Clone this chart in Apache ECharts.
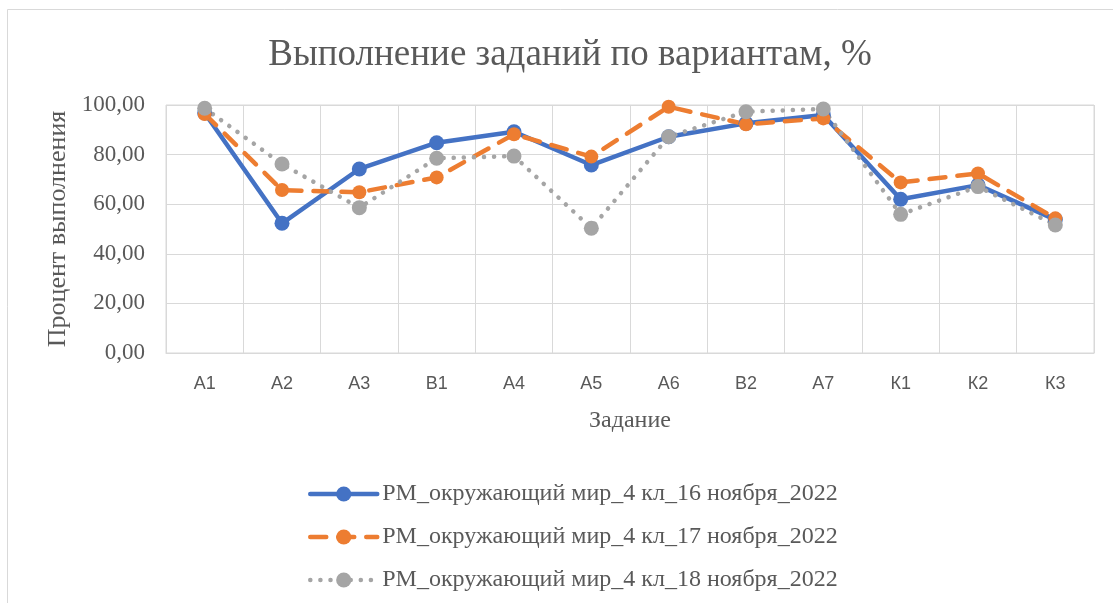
<!DOCTYPE html>
<html lang="ru">
<head>
    <meta charset="UTF-8">
    <title>Выполнение заданий</title>
    <script src="https://cdn.jsdelivr.net/npm/echarts@6/dist/echarts.min.js"></script>
    <style>
        html, body { margin: 0; padding: 0; background: #fff; }
    </style>
</head>
<body>
<div id="chart" style="width: 1113px;height: 603px"></div>

<script>
    // данные
    var tasks = ['А1', 'А2', 'А3', 'В1', 'А4', 'А5', 'А6', 'В2', 'А7', 'К1', 'К2', 'К3'];
    var nov16 = [96.8, 52.3, 74.2, 84.8, 89.2, 75.8, 87.2, 92.6, 96.0, 62.0, 67.7, 53.8];
    var nov17 = [96.4, 65.7, 64.8, 70.8, 88.2, 79.2, 99.3, 92.2, 94.6, 68.8, 72.4, 54.3];
    var nov18 = [98.7, 76.2, 58.6, 78.5, 79.4, 50.3, 87.2, 97.3, 98.4, 55.9, 67.1, 51.6];
    var yTicks = [0, 20, 40, 60, 80, 100];

    var textColor = '#595959';
    var gridColor = '#D9D9D9';
    var serif = '"Liberation Serif", "Times New Roman", serif';

    var chartDom = document.getElementById('chart');
    var myChart = echarts.init(chartDom);
    var option;

    function makeSeries(name, data, color, lineType, size) {
        return {
            name: name,
            type: 'line',
            data: data,
            symbol: 'circle',
            symbolSize: size,
            showAllSymbol: true,
            itemStyle: { color: color },
            lineStyle: { color: color, width: 4.5, type: lineType, cap: 'round' },
            emphasis: { disabled: true },
            animation: false
        };
    }

    option = {
        backgroundColor: '#fff',
        graphic: [{
            type: 'rect',
            shape: { x: 7.5, y: 9.5, width: 1300, height: 800 },
            style: { fill: 'none', stroke: gridColor, lineWidth: 1 },
            silent: true
        }],
        title: {
            text: 'Выполнение заданий по вариантам, %',
            left: 565,
            textAlign: 'center',
            top: 32,
            textStyle: { fontFamily: serif, fontSize: 37, fontWeight: 'normal', color: textColor }
        },
        grid: {
            left: 166,
            right: 19,
            top: 105,
            bottom: 250,
            show: true,
            borderColor: gridColor,
            borderWidth: 1
        },
        legend: {
            orient: 'vertical',
            left: 303,
            top: 477,
            itemGap: 19,
            itemWidth: 67,
            itemHeight: 19,
            lineStyle: { width: 4.5, cap: 'round' },
            textStyle: { fontFamily: serif, fontSize: 24, color: textColor },
            data: [
                'РМ_окружающий мир_4 кл_16 ноября_2022',
                'РМ_окружающий мир_4 кл_17 ноября_2022',
                'РМ_окружающий мир_4 кл_18 ноября_2022'
            ]
        },
        xAxis: {
            type: 'category',
            data: tasks,
            boundaryGap: true,
            name: 'Задание',
            nameLocation: 'middle',
            nameGap: 56,
            nameTextStyle: { fontFamily: serif, fontSize: 24, color: textColor },
            axisLine: { lineStyle: { color: gridColor } },
            axisTick: { show: false },
            axisLabel: { color: textColor, fontFamily: '"Liberation Sans", Arial, sans-serif', fontSize: 18, margin: 22 },
            splitLine: { show: true, lineStyle: { color: gridColor, width: 1 } }
        },
        yAxis: {
            type: 'value',
            min: yTicks[0],
            max: yTicks[yTicks.length - 1],
            interval: 20,
            name: 'Процент выполнения',
            nameLocation: 'middle',
            nameGap: 92,
            nameTextStyle: { fontFamily: serif, fontSize: 26, color: textColor },
            axisLine: { show: false },
            axisTick: { show: false },
            axisLabel: {
                color: textColor,
                fontFamily: serif,
                fontSize: 23,
                margin: 21,
                formatter: function (v) { return v.toFixed(2).replace('.', ','); }
            },
            splitLine: { lineStyle: { color: gridColor, width: 1 } }
        },
        series: [
            makeSeries('РМ_окружающий мир_4 кл_16 ноября_2022', nov16, '#4472C4', 'solid', 15),
            makeSeries('РМ_окружающий мир_4 кл_17 ноября_2022', nov17, '#ED7D31', [16, 12], 14),
            makeSeries('РМ_окружающий мир_4 кл_18 ноября_2022', nov18, '#A5A5A5', [0.1, 10], 15)
        ]
    };

    option && myChart.setOption(option);
</script>
</body>
</html>
